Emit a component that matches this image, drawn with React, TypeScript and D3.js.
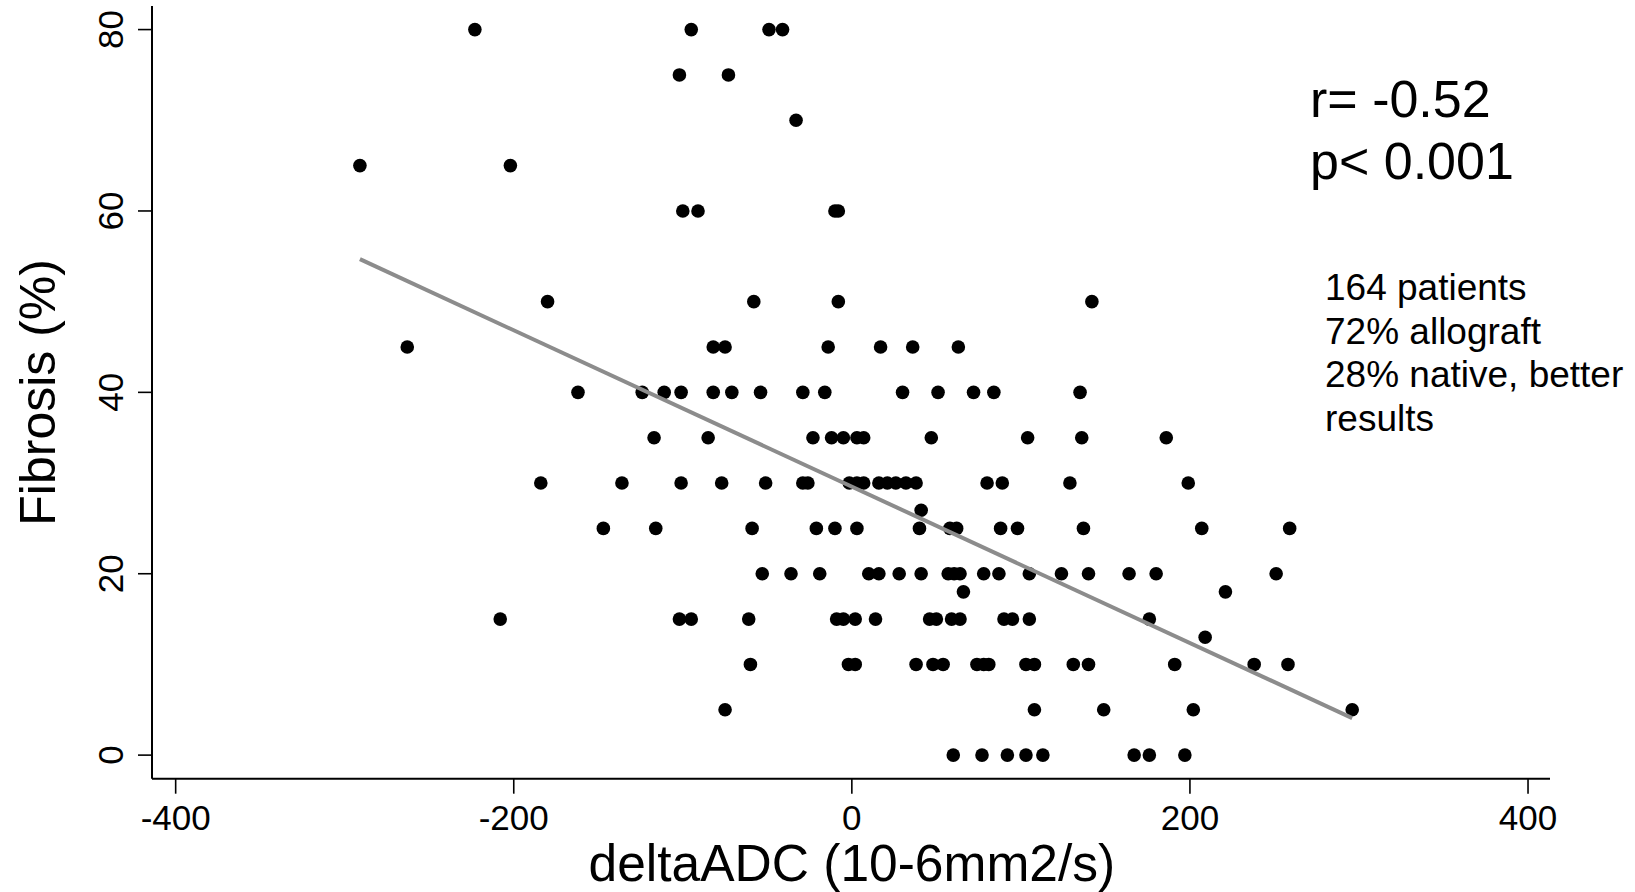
import React from "react";
import * as d3 from "d3";

// ---- data ----
const deltaADC: number[] = [
  // 80
  -223, -95, -49, -41,
  // 75
  -102, -73,
  // 70
  -33,
  // 65
  -291, -202,
  // 60
  -100, -91, -10, -8,
  // 50
  -180, -58, -8, 142,
  // 45
  -263, -82, -75, -14, 17, 36, 63,
  // 40
  -162, -124, -111, -101, -82, -71, -54, -29, -16, 30, 51, 72, 84, 135,
  // 35
  -117, -85, -23, -12, -5, 3, 7, 47, 104, 136, 186,
  // 30
  -184, -136, -101, -77, -51, -29, -26, -1.5, 3, 7, 16, 21, 26, 32, 38, 80, 89, 129, 199,
  // 27
  41,
  // 25
  -147, -116, -59, -21, -10, 3, 40, 58, 62, 88, 98, 137, 207, 259,
  // 20
  -53, -36, -19, 10, 16, 28, 41, 57, 60.5, 64, 78, 87, 105, 124, 140, 164, 180, 251,
  // 18
  66, 221,
  // 15
  -208, -102, -95, -61, -9, -5, 2, 14, 46, 50, 59, 64, 90, 95, 105, 176,
  // 13
  209,
  // 10
  -60, -2, 2, 38, 48, 54, 74, 78, 81, 103, 108, 131, 140, 191, 238, 258,
  // 5
  -75, 108, 149, 202, 296,
  // 0
  60, 77, 92, 103, 113, 167, 176, 197,
];

const fibrosis: number[] = [
  80, 80, 80, 80,
  75, 75,
  70,
  65, 65,
  60, 60, 60, 60,
  50, 50, 50, 50,
  45, 45, 45, 45, 45, 45, 45,
  40, 40, 40, 40, 40, 40, 40, 40, 40, 40, 40, 40, 40, 40,
  35, 35, 35, 35, 35, 35, 35, 35, 35, 35, 35,
  30, 30, 30, 30, 30, 30, 30, 30, 30, 30, 30, 30, 30, 30, 30, 30, 30, 30, 30,
  27,
  25, 25, 25, 25, 25, 25, 25, 25, 25, 25, 25, 25, 25, 25,
  20, 20, 20, 20, 20, 20, 20, 20, 20, 20, 20, 20, 20, 20, 20, 20, 20, 20,
  18, 18,
  15, 15, 15, 15, 15, 15, 15, 15, 15, 15, 15, 15, 15, 15, 15, 15,
  13,
  10, 10, 10, 10, 10, 10, 10, 10, 10, 10, 10, 10, 10, 10, 10, 10,
  5, 5, 5, 5, 5,
  0, 0, 0, 0, 0, 0, 0, 0,
];

// fitted line (as drawn in the reference)
const fitIntercept = 29.6;
const fitSlope = -0.0862;

const xTicks: number[] = [-400, -200, 0, 200, 400];
const yTicks: number[] = [0, 20, 40, 60, 80];
const xDomain: [number, number] = [-414, 413];
const yDomain: [number, number] = [-2.6, 82.6];

const xTitle = "deltaADC (10-6mm2/s)";
const yTitle = "Fibrosis (%)";
const statLines: string[] = ["r= -0.52", "p< 0.001"];
const noteLines: string[] = ["164 patients", "72% allograft", "28% native, better", "results"];

const W = 1635;
const H = 892;
const FONT = "'Liberation Sans', Arial, Helvetica, sans-serif";

export default function App() {
  const x = d3.scaleLinear().domain(xDomain).range([152, 1550]);
  const y = d3.scaleLinear().domain(yDomain).range([778.7, 6]);

  const [xmin, xmax] = d3.extent(deltaADC) as [number, number];
  const fitPath = d3
    .line<number>()
    .x((d) => x(d))
    .y((d) => y(fitIntercept + fitSlope * d))([xmin, xmax]);

  const xAxisY = y(yDomain[0]);
  const yAxisX = x(xDomain[0]);

  return (
    <svg
      width={W}
      height={H}
      viewBox={`0 0 ${W} ${H}`}
      style={{ position: "absolute", left: 0, top: 0, background: "#fff" }}
      fontFamily={FONT}
    >
      <rect x={0} y={0} width={W} height={H} fill="#fff" />

      {/* axes */}
      <line x1={yAxisX} x2={yAxisX} y1={y(yDomain[1])} y2={xAxisY} stroke="#000" strokeWidth={2} />
      <line x1={yAxisX} x2={x(xDomain[1])} y1={xAxisY} y2={xAxisY} stroke="#000" strokeWidth={2} />

      {yTicks.map((t) => (
        <g key={"yt" + t}>
          <line x1={yAxisX - 14} x2={yAxisX} y1={y(t)} y2={y(t)} stroke="#000" strokeWidth={1.6} />
          <text
            transform={`translate(123,${y(t)}) rotate(-90)`}
            textAnchor="middle"
            fontSize={35}
            fill="#000"
          >
            {t}
          </text>
        </g>
      ))}

      {xTicks.map((t) => (
        <g key={"xt" + t}>
          <line x1={x(t)} x2={x(t)} y1={xAxisY} y2={xAxisY + 15} stroke="#000" strokeWidth={1.6} />
          <text x={x(t)} y={830} textAnchor="middle" fontSize={35} fill="#000">
            {t}
          </text>
        </g>
      ))}

      <text x={x(0)} y={881} textAnchor="middle" fontSize={51.5} fill="#000">
        {xTitle}
      </text>
      <text
        transform={`translate(55,${(y(yDomain[0]) + y(yDomain[1])) / 2}) rotate(-90)`}
        textAnchor="middle"
        fontSize={50}
        fill="#000"
      >
        {yTitle}
      </text>

      {/* points */}
      {deltaADC.map((d, i) => (
        <circle key={"p" + i} cx={x(d)} cy={y(fibrosis[i])} r={6.8} fill="#000" />
      ))}

      {/* fit line */}
      <path d={fitPath || ""} fill="none" stroke="#8c8c8c" strokeWidth={4} />

      {/* annotations */}
      {statLines.map((s, i) => (
        <text key={"s" + i} x={1310} y={116.7 + i * 62} fontSize={52} fill="#000">
          {s}
        </text>
      ))}
      {noteLines.map((s, i) => (
        <text key={"n" + i} x={1325} y={300 + i * 43.7} fontSize={37} fill="#000">
          {s}
        </text>
      ))}
    </svg>
  );
}
